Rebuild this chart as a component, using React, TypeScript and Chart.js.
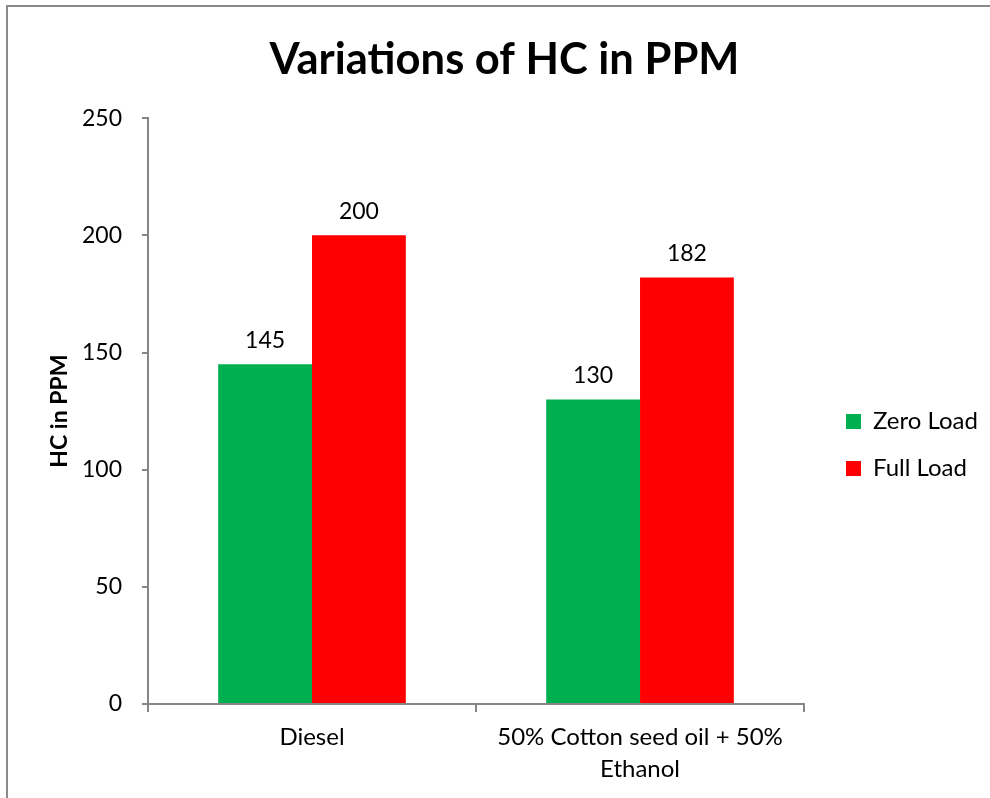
import React, { useEffect, useRef } from "react";
import { Chart, registerables } from "chart.js";

Chart.register(...registerables);

const categories: (string | string[])[] = ["Diesel", ["50% Cotton seed oil + 50%", "Ethanol"]];
const zeroLoad = [145, 130];
const fullLoad = [200, 182];
const seriesNames = ["Zero Load", "Full Load"];
const titleText = "Variations of HC in PPM";
const yTitle = "HC in PPM";

const FONT = "Lato, 'Open Sans', sans-serif";
const AXIS = "#868686";

const frame = {
  id: "frame",
  beforeDraw(chart: any) {
    const ctx = chart.ctx;
    ctx.save();
    ctx.fillStyle = "#ffffff";
    ctx.fillRect(0, 0, chart.width, chart.height);
    ctx.strokeStyle = "#8a8a8a";
    ctx.lineWidth = 2;
    ctx.strokeRect(7, 6, chart.width + 20, chart.height + 20);
    ctx.restore();
  },
};

const legendShift = {
  id: "legendShift",
  afterLayout(chart: any) {
    const lg = chart.legend;
    if (!lg) return;
    const dx = 846 - (chart.chartArea.right + 23);
    lg.left += dx;
    lg.right += dx;
    lg.top += 52;
    lg.bottom += 52;
  },
};

const valueLabels = {
  id: "valueLabels",
  afterDatasetsDraw(chart: any) {
    const ctx = chart.ctx;
    ctx.save();
    ctx.font = `23px ${FONT}`;
    ctx.fillStyle = "#000";
    ctx.textAlign = "center";
    ctx.textBaseline = "middle";
    chart.data.datasets.forEach((ds: any, i: number) => {
      const meta = chart.getDatasetMeta(i);
      meta.data.forEach((bar: any, j: number) => {
        ctx.fillText(String(ds.data[j]), bar.x, bar.y - 24);
      });
    });
    ctx.restore();
  },
};

export default function App() {
  const ref = useRef<HTMLCanvasElement>(null);
  useEffect(() => {
    const chart = new Chart(ref.current!, {
      type: "bar",
      data: {
        labels: categories,
        datasets: [
          { label: seriesNames[0], data: zeroLoad, backgroundColor: "#00B050" },
          { label: seriesNames[1], data: fullLoad, backgroundColor: "#FF0000" },
        ],
      },
      options: {
        animation: false,
        responsive: false,
        layout: { padding: { left: 40, right: 21, top: 0, bottom: 12 } },
        datasets: { bar: { categoryPercentage: 0.572, barPercentage: 1 } } as any,
        plugins: {
          title: {
            display: true,
            text: titleText,
            color: "#000",
            font: { family: FONT, size: 43.5, weight: "bold" },
            padding: { top: 34, bottom: 32 },
          },
          legend: {
            position: "right",
            labels: {
              boxWidth: 15,
              boxHeight: 15,
              color: "#000",
              font: { family: FONT, size: 24 },
              padding: 23,
            },
          },
          tooltip: { enabled: false },
        },
        scales: {
          x: {
            offset: true,
            grid: {
              offset: true,
              drawOnChartArea: false,
              drawTicks: true,
              tickLength: 8,
              color: AXIS,
              lineWidth: 2,
            },
            border: { color: AXIS, width: 2 },
            ticks: {
              color: "#000",
              font: { family: FONT, size: 24, lineHeight: 1.35 },
              padding: 9,
            },
            afterFit: (s: any) => {
              s.height = 798 - 704 - 12;
            },
          },
          y: {
            min: 0,
            max: 250,
            ticks: { stepSize: 50, color: "#000", font: { family: FONT, size: 23 }, padding: 20 },
            grid: { drawOnChartArea: false, tickLength: 6, color: AXIS, lineWidth: 2 },
            border: { color: AXIS, width: 2 },
            title: {
              display: true,
              text: yTitle,
              color: "#000",
              font: { family: FONT, size: 23, weight: "bold" },
              padding: { top: 6, bottom: 6 },
            },
            afterFit: (s: any) => {
              s.width = 148 - 40;
            },
          },
        },
      },
      plugins: [frame, legendShift, valueLabels],
    });
    return () => chart.destroy();
  }, []);
  return (
    <canvas
      ref={ref}
      width={990}
      height={798}
      style={{ position: "fixed", left: 0, top: 0, width: 990, height: 798 }}
    />
  );
}
